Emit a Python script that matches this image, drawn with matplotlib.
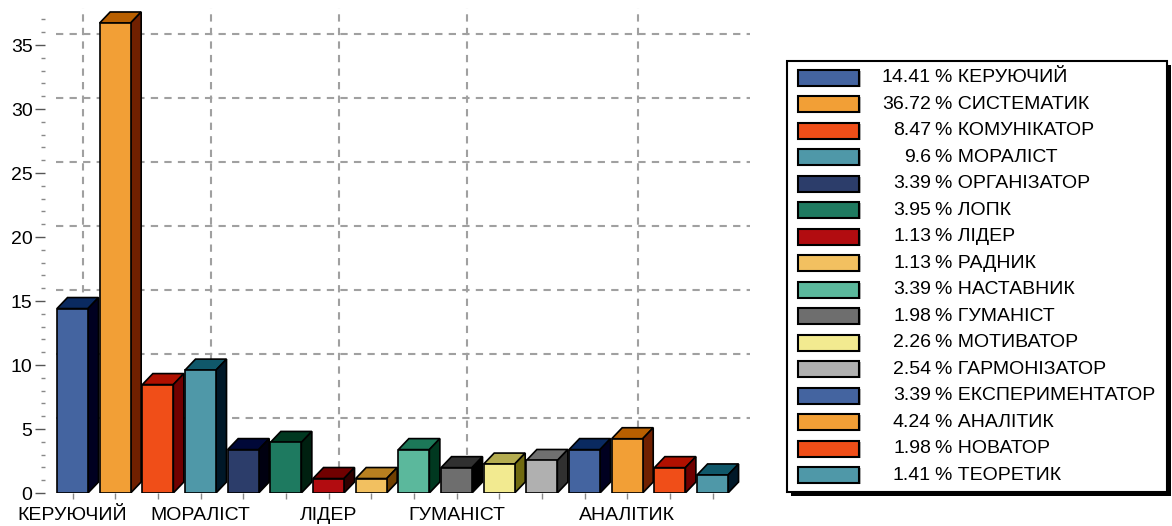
import numpy as np
import matplotlib
matplotlib.use("Agg")
import matplotlib.pyplot as plt
from matplotlib.patches import Polygon, Rectangle

plt.rcParams['font.family'] = ['Liberation Sans', 'DejaVu Sans']
plt.rcParams['font.size'] = 14

## Data

names = ["КЕРУЮЧИЙ", "СИСТЕМАТИК", "КОМУНІКАТОР", "МОРАЛІСТ", "ОРГАНІЗАТОР",
         "ЛОПК", "ЛІДЕР", "РАДНИК", "НАСТАВНИК", "ГУМАНІСТ", "МОТИВАТОР",
         "ГАРМОНІЗАТОР", "ЕКСПЕРИМЕНТАТОР", "АНАЛІТИК", "НОВАТОР", "ТЕОРЕТИК"]
values = [14.41, 36.72, 8.47, 9.6, 3.39, 3.95, 1.13, 1.13, 3.39, 1.98, 2.26,
          2.54, 3.39, 4.24, 1.98, 1.41]
labelled = [0, 3, 6, 9, 13]   # categories whose name is shown under the axis

face_colors = ["#4464a0", "#f29f36", "#f04e18", "#4f98a8", "#2c3d6a", "#1e7a60",
               "#b20c10", "#f2c060", "#5bb89c", "#6e6e6e", "#f2ea90", "#b0b0b0",
               "#4464a0", "#f29f36", "#f04e18", "#4f98a8"]
top_colors = ["#0a2a60", "#b85f00", "#b01000", "#10586a", "#000838", "#003820",
              "#700000", "#b88020", "#1c7858", "#303030", "#b4ac50", "#707070",
              "#0a2a60", "#b85f00", "#b01000", "#10586a"]
side_colors = ["#000020", "#702000", "#700000", "#001828", "#000010", "#002010",
               "#300000", "#704000", "#003820", "#000000", "#706a10", "#303030",
               "#000020", "#702000", "#700000", "#001828"]

## Figure layout (pixels)

W, H = 1172, 526
fig = plt.figure(figsize=(W / 100, H / 100), dpi=100)

px_step = 42.67          # distance between bars, px
px_unit = 12.8           # px per y unit
x0_px, x1_px = 45, 750
y0_px, y1_px = 493, 8
ax = fig.add_axes([x0_px / W, (H - y0_px) / H, (x1_px - x0_px) / W, (y0_px - y1_px) / H])
xlim = ((x0_px - 72.5) / px_step, (x1_px - 72.5) / px_step)
ylim = (0, (y0_px - y1_px) / px_unit)
ax.set_xlim(*xlim)
ax.set_ylim(*ylim)

bw = 31 / px_step
dx = 10.5 / px_step
dy = 11 / px_unit

## Back-plane grid

grid_kw = dict(color="#a0a0a0", lw=1.5, ls=(0, (3.5, 3)), zorder=0)
yt = np.arange(5, 40, 5)
for y in yt:
    ax.plot([xlim[0] + dx, xlim[1]], [y + dy, y + dy], **grid_kw)
for i in labelled:
    ax.plot([i + dx, i + dx], [dy, ylim[1]], **grid_kw)

## 3D bars

x = np.arange(len(values))
ax.bar(x, values, width=bw, color=face_colors, edgecolor="black", linewidth=1.2, zorder=3)
for i, v in enumerate(values):
    l, r = i - bw / 2, i + bw / 2
    top = Polygon([(l, v), (r, v), (r + dx, v + dy), (l + dx, v + dy)],
                  closed=True, fc=top_colors[i], ec="black", lw=1.2, zorder=2)
    side = Polygon([(r, 0), (r, v), (r + dx, v + dy), (r + dx, dy)],
                   closed=True, fc=side_colors[i], ec="black", lw=1.2, zorder=2)
    ax.add_patch(top)
    ax.add_patch(side)

## Axes styling

for s in ax.spines.values():
    s.set_visible(False)
ax.set_yticks(np.arange(0, 40, 5))
ax.set_yticks(np.arange(0, 38, 1), minor=True)
ax.tick_params(axis="y", which="major", length=7, width=1, color="#555555", pad=2, labelsize=14)
ax.tick_params(axis="y", which="minor", length=3, width=1, color="#888888")
ax.set_xticks(x)
ax.set_xticklabels([names[i] if i in labelled else "" for i in x])
ax.tick_params(axis="x", length=4, width=1, color="#888888", pad=6, labelsize=14)

## Legend box

lg_l, lg_t, lg_r, lg_b = 787, 61, 1167, 492
lax = fig.add_axes([lg_l / W, (H - lg_b) / H, (lg_r - lg_l) / W, (lg_b - lg_t) / H])
lax.set_xlim(0, lg_r - lg_l)
lax.set_ylim(lg_b - lg_t, 0)
lax.axis("off")
lax.add_patch(Rectangle((4, 4), lg_r - lg_l, lg_b - lg_t, fc="black", ec="none",
                        clip_on=False, zorder=0))
lax.add_patch(Rectangle((0, 0), lg_r - lg_l, lg_b - lg_t, fc="white", ec="black",
                        lw=1.5, clip_on=False, zorder=1))
row0, row_step = 16.7, 26.5
for k, (n, v) in enumerate(zip(names, values)):
    yc = row0 + k * row_step
    lax.add_patch(Rectangle((13, yc - 7), 61, 16, fc="#b0b0b0", ec="none", zorder=2))
    lax.add_patch(Rectangle((11, yc - 8), 61, 16, fc=face_colors[k], ec="black",
                            lw=1.5, zorder=3))
    lax.text(144, yc, f"{v:g}", ha="right", va="center", fontsize=14, zorder=4)
    lax.text(148, yc, f"% {n}", ha="left", va="center", fontsize=14, zorder=4)

fig.savefig("out.png", dpi=100)
